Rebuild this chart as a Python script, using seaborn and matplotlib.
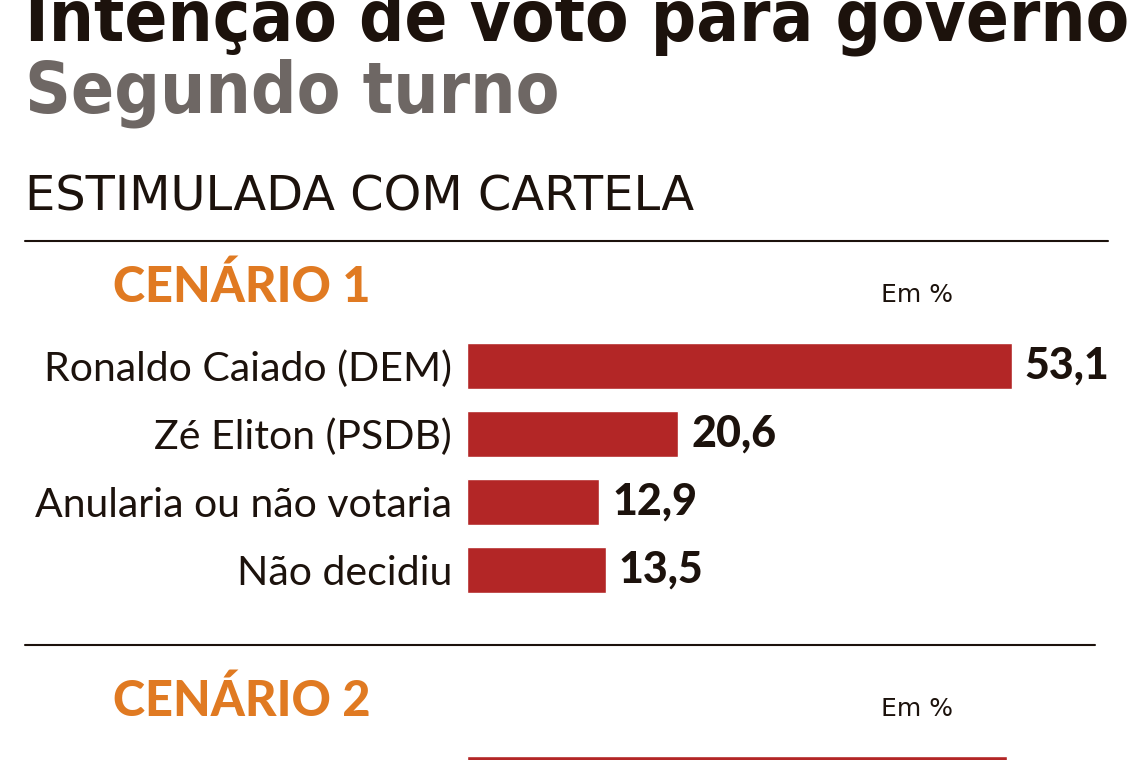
import matplotlib
matplotlib.use("Agg")
import matplotlib.pyplot as plt
import seaborn as sns
import pandas as pd

# ---- data ----
title_line1 = "Intenção de voto para governo"
title_line2 = "Segundo turno"
subtitle = "ESTIMULADA COM CARTELA"
unit_label = "Em %"

cenario1_title = "CENÁRIO 1"
cenario1_categories = ["Ronaldo Caiado (DEM)", "Zé Eliton (PSDB)",
                       "Anularia ou não votaria", "Não decidiu"]
cenario1_values = [53.1, 20.6, 12.9, 13.5]

cenario2_title = "CENÁRIO 2"
cenario2_categories = ["Ronaldo Caiado (DEM)"]
cenario2_values = [52.6]

# ---- style ----
sns.set_theme(style="white")
plt.rcParams['font.family'] = ['Lato', 'DejaVu Sans']

W, H = 1141, 760
fig = plt.figure(figsize=(W / 100, H / 100), dpi=100)
fig.patch.set_facecolor("white")

BAR = "#B32626"
DARK = "#1C120C"
GREY = "#6E6764"
ORANGE = "#E07A22"

def fy(y):
    return 1 - y / H

def fx(x):
    return x / W

# titles
fig.text(fx(25), fy(41), title_line1, ha="left", va="baseline",
         fontsize=50.8, color=DARK, family=["DejaVu Sans"], fontstretch="condensed",
         fontweight="heavy")
fig.text(fx(25), fy(112), title_line2, ha="left", va="baseline",
         fontsize=51, color=GREY, family=["DejaVu Sans"], fontstretch="condensed",
         fontweight="heavy")
fig.text(fx(25), fy(210), subtitle, ha="left", va="baseline",
         fontsize=34.5, color=DARK, family=["DejaVu Sans"],
         fontweight="normal")

# separator lines
fig.add_artist(plt.Line2D([fx(25), fx(1108)], [fy(241), fy(241)],
                          color=DARK, lw=1.5, transform=fig.transFigure))
fig.add_artist(plt.Line2D([fx(25), fx(1095)], [fy(645), fy(645)],
                          color=DARK, lw=1.5, transform=fig.transFigure))

# section headers
for title, base in [(cenario1_title, 302), (cenario2_title, 716)]:
    fig.text(fx(113), fy(base), title, ha="left", va="baseline",
             fontsize=35, color=ORANGE, fontweight="black")
    fig.text(fx(881), fy(base), unit_label, ha="left", va="baseline",
             fontsize=18, color=DARK, family=["DejaVu Sans"], fontweight="normal")

PX_PER_UNIT = 10.26
AX_LEFT = 467
AX_W = W - AX_LEFT
ROW = 68

def draw(cats, vals, top_px):
    bottom_px = top_px + 4 * ROW
    ax = fig.add_axes([fx(AX_LEFT), 1 - bottom_px / H, AX_W / W, 4 * ROW / H])
    df = pd.DataFrame({"cat": cats, "val": vals})
    sns.barplot(data=df, x="val", y="cat", orient="h", color=BAR,
                width=0.69, ax=ax, saturation=1)
    ax.set_xlim(0, AX_W / PX_PER_UNIT)
    ax.set_ylim(3.5, -0.5)
    for s in ax.spines.values():
        s.set_visible(False)
    ax.set_xticks([])
    ax.set_xlabel("")
    ax.set_ylabel("")
    ax.tick_params(axis="y", length=0, pad=10.8)
    for lab in ax.get_yticklabels():
        lab.set_fontsize(29.5)
        lab.set_color(DARK)
        lab.set_fontweight("normal")
    ax.set_facecolor("none")
    for cont in ax.containers:
        ax.bar_label(cont, labels=[f"{v:.1f}".replace(".", ",") for v in vals],
                     padding=9.4, fontsize=31, fontweight="black", color=DARK,
                     clip_on=False)
    return ax

draw(cenario1_categories, cenario1_values, 332)
draw(cenario2_categories, cenario2_values, 745.5)

fig.savefig("out.png", dpi=100)
